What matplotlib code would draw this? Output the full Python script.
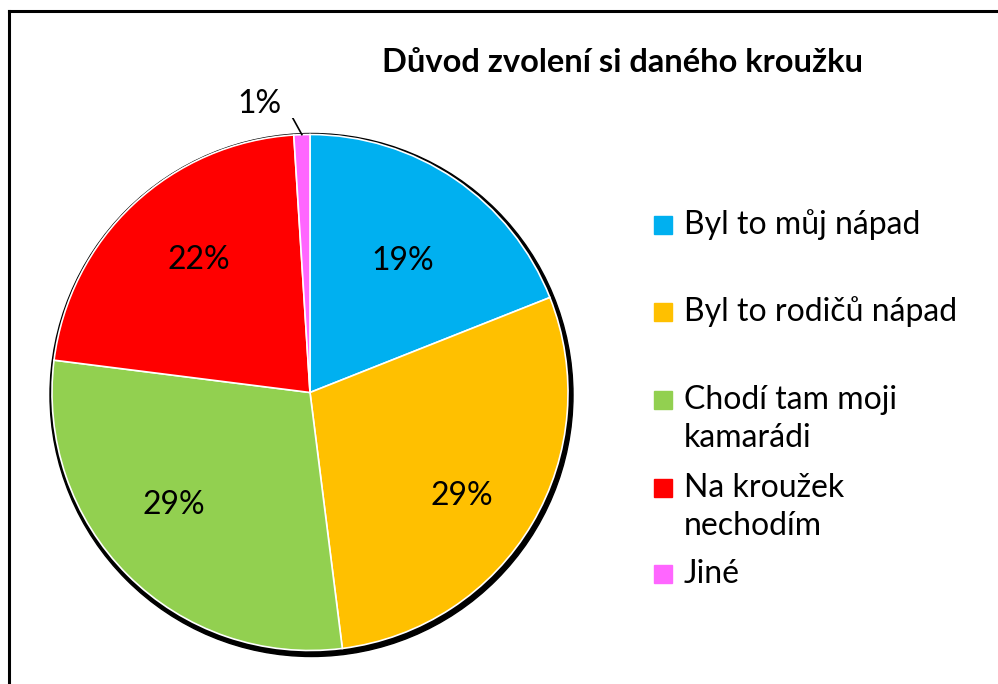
import matplotlib
matplotlib.use("Agg")
import matplotlib.pyplot as plt
from matplotlib.patches import Circle, Rectangle
import numpy as np

categories = ["Byl to můj nápad", "Byl to rodičů nápad", "Chodí tam moji\nkamarádi",
              "Na kroužek\nnechodím", "Jiné"]
values = [19, 29, 29, 22, 1]
colors = ["#00B0F0", "#FFC000", "#92D050", "#FF0000", "#FF66FF"]
title = "Důvod zvolení si daného kroužku"

FONT = "Lato"
W, H = 998, 684
fig = plt.figure(figsize=(W / 100, H / 100), dpi=100)

# frame (top and left visible)
fig.add_artist(plt.Line2D([8.5 / W, 8.5 / W], [0, 1 - 10.5 / H], color="black", lw=2.2))
fig.add_artist(plt.Line2D([8.5 / W, 1], [1 - 10.5 / H, 1 - 10.5 / H], color="black", lw=2.2))

cx, cy, R = 310, 392.5, 258.0
half = 275
ax = fig.add_axes([(cx - half) / W, (H - cy - half) / H, 2 * half / W, 2 * half / H])

# shadow
ax.add_patch(Circle((1.5 / R, -2.5 / R), 1 + 3.5 / R, color="black", zorder=0))

wedges, _ = ax.pie(values, colors=colors, startangle=90, counterclock=False,
                   radius=1, wedgeprops=dict(edgecolor="white", linewidth=1.2))
for w in wedges:
    w.set_zorder(1)
ax.set_aspect("auto")
ax.set_xlim(-half / R, half / R)
ax.set_ylim(-half / R, half / R)
ax.axis("off")

# small pixel nudges for the in-slice labels (x right, y down)
nudges = [(-4, 11), (3, 16), (-14, -10), (7, -6)]

total = sum(values)
cum = 0
for i, v in enumerate(values):
    mid = 90 - (cum + v / 2) / total * 360
    cum += v
    lab = f"{v}%"
    if i == len(values) - 1:
        tx, ty = (259 - cx) / R, (cy - 104) / R
        ax.text(tx, ty, lab, ha="center", va="center", fontsize=23, family=FONT)
        ex, ey = np.cos(np.radians(mid)), np.sin(np.radians(mid))
        ax.plot([(283 - cx) / R, (290 - cx) / R, ex], [(cy - 113) / R, (cy - 113) / R, ey],
                color="black", lw=1.2, zorder=3)
    else:
        d = 0.67
        nx, ny = nudges[i]
        ax.text(d * np.cos(np.radians(mid)) + nx / R, d * np.sin(np.radians(mid)) - ny / R, lab,
                ha="center", va="center", fontsize=23, family=FONT, zorder=3)

fig.text(623 / W, 1 - 62 / H, title, ha="center", va="center", fontsize=23.5,
         fontweight="bold", family=FONT)

# legend
row_y = [225, 312, 400, 488, 574]
for lab, col, y in zip(categories, colors, row_y):
    fig.add_artist(Rectangle((654 / W, 1 - (y + 9) / H), 18 / W, 18 / H, color=col))
    lines = lab.split("\n")
    for j, ln in enumerate(lines):
        fig.text(684 / W, 1 - (y + 38 * j) / H, ln, ha="left", va="center",
                 fontsize=23, family=FONT)

fig.savefig("out.png", dpi=100, facecolor="white")
